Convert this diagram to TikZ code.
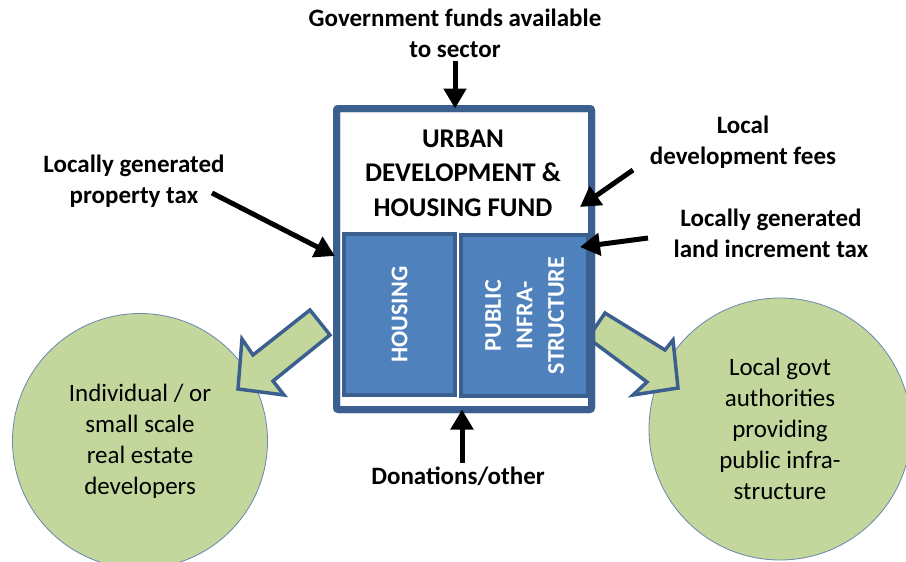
\documentclass[tikz,border=0pt]{standalone}
\usepackage{fontspec}
\setmainfont{Carlito}
\usetikzlibrary{arrows.meta}
\usetikzlibrary{positioning}
\definecolor{fundblue}{HTML}{3B5F8E}
\definecolor{boxblue}{HTML}{4F81BD}
\definecolor{leafgreen}{HTML}{C3D69B}
\definecolor{rimblue}{HTML}{6A87AE}

\begin{document}
\begin{tikzpicture}[x=1pt,y=-1pt]
\tikzstyle{every node}=[font=\fontsize{25}{31}\selectfont\bfseries,align=center]
\tikzstyle{inflow}=[line width=5pt,-{Triangle[length=20pt,width=22pt]}]
\tikzstyle{fatarrow}=[fill=leafgreen,draw=fundblue,line width=3.5pt,line join=miter]
\tikzstyle{subbox}=[draw=fundblue,fill=boxblue,line width=4pt,rotate=90,text=white,inner sep=0pt,outer sep=0pt,
                    font=\fontsize{24}{31.5}\selectfont\bfseries]
\tikzstyle{target}=[circle,fill=leafgreen,draw=rimblue,line width=0.8pt,font=\fontsize{25}{31}\selectfont]
\useasboundingbox (0,0) rectangle (906,562);

% Destinations
\node[target,minimum size=255] (devs) at (140,441) {Individual / or\\small scale\\real estate\\developers};
\node[target,minimum size=262] (govt) at (780,429) {Local govt\\authorities\\providing\\public infra-\\structure};

% Outflows
\draw[fatarrow] (310,310) -- (330,335) -- (273,381) -- (284,395) -- (238,389) -- (242,339) -- (253,355) -- cycle;
\draw[fatarrow] (605,313) -- (665,350) -- (673,340) -- (678,388) -- (633,395) -- (647,382) -- (588,338) -- cycle;

%=== Fund
\node[draw=fundblue,fill=white,line width=7pt,outer sep=0pt,rounded corners=2pt,
      minimum width=255,minimum height=301] (fund) at (464,259) {};
\node[subbox,minimum width=161,minimum height=111] (housing) at (399.5,314.5) {HOUSING};
\node[subbox,minimum width=161,minimum height=127] (infra) at (524.5,315.5) {PUBLIC\\INFRA-\\STRUCTURE};
\draw[fundblue,line width=7pt,rounded corners=2pt] (fund.north west) rectangle (fund.south east);
\node[font=\fontsize{27}{34.5}\selectfont\bfseries] (title) at (463,173) {URBAN\\DEVELOPMENT \&\\HOUSING FUND};

%=== Inflows
\node (govfunds) at (455,33) {Government funds available\\to sector};
\draw[inflow] (govfunds.south) -- (govfunds.south |- fund.north);

\node (proptax) at (134,181) {Locally generated\\property tax};
\coordinate (proptail) at (212,193);
\coordinate (proptip) at (335,256);
\draw[inflow] (proptail) -- (proptip);

\node (devfees) at (743,142.5) {Local\\development fees};
\coordinate (feetail) at (633,170);
\coordinate (feetip) at (580,207);
\draw[inflow] (feetail) -- (feetip);

\node (landtax) at (771,233) {Locally generated\\land increment tax};
\coordinate (landtail) at (648,238);
\coordinate (landtip) at (580,247);
\draw[inflow] (landtail) -- (landtip);

\node (donations) at (458,476) {Donations/other};
\coordinate (dontail) at (462,463);
\draw[inflow] (dontail) -- (dontail |- fund.south);
\end{tikzpicture}
\end{document}
